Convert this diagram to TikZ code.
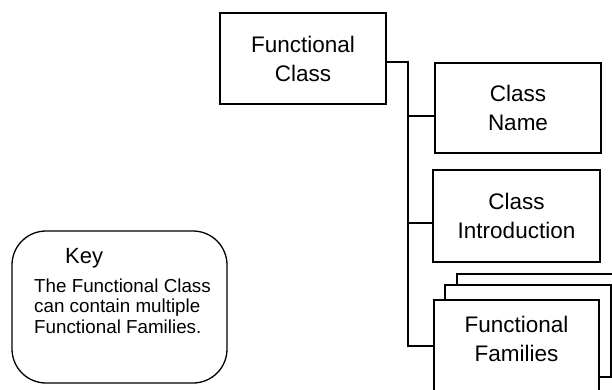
\documentclass[tikz,border=0pt]{standalone}
\usepackage{fontspec}
\setmainfont{Liberation Sans}
\begin{document}
\begin{tikzpicture}[x=1pt,y=-1pt,
  boxstyle/.style={draw=black, line width=1.3pt, fill=white, inner sep=0pt, align=center,
    font=\fontsize{22.5}{29}\selectfont},
  wire/.style={draw=black, line width=1.3pt},
  keytxt/.style={inner sep=0pt, align=left, font=\fontsize{18.8}{20.5}\selectfont}]
\useasboundingbox (0,0) rectangle (612,390);
\clip (0,0) rectangle (612,390);
% main boxes
\node[boxstyle, minimum width=166pt, minimum height=91pt] (fc) at (303,58.5) {Functional\\Class};
\node[boxstyle, minimum width=166pt, minimum height=90pt] (cn) at (518,108) {Class\\Name};
\node[boxstyle, minimum width=167pt, minimum height=92pt] (ci) at (516.5,216) {Class\\Introduction};
% stacked family boxes
\node[boxstyle, minimum width=183pt, minimum height=92pt] (famc) at (548.5,320) {};
\node[boxstyle, minimum width=166pt, minimum height=92pt] (famb) at (528,331) {};
\node[boxstyle, minimum width=165pt, minimum height=120pt] (fam) at (516.5,360) {};
\node[inner sep=0pt, align=center, font=\fontsize{22.5}{29}\selectfont] (famtext) at (516.5,339) {Functional\\Families};
% connectors
\coordinate (t1) at (408,62);
\coordinate (t2) at (408,116);
\coordinate (t3) at (408,223);
\coordinate (t4) at (408,346);
\draw[wire] (fc.east |- t1) -- (t1) -- (t4) -- (fam.west |- t4);
\draw[wire] (t2) -- (cn.west |- t2);
\draw[wire] (t3) -- (ci.west |- t3);
% key
\node[draw=black, line width=1.3pt, rounded corners=34pt, minimum width=215pt, minimum height=152pt, inner sep=0pt] (key) at (119.5,307) {};
\node[inner sep=0pt, anchor=base west, font=\fontsize{22}{26}\selectfont] (keytitle) at (65,263) {Key};
\node[keytxt, anchor=north west] (keybody) at (34,278.5) {The Functional Class\\can contain multiple\\Functional Families.};
\end{tikzpicture}
\end{document}
